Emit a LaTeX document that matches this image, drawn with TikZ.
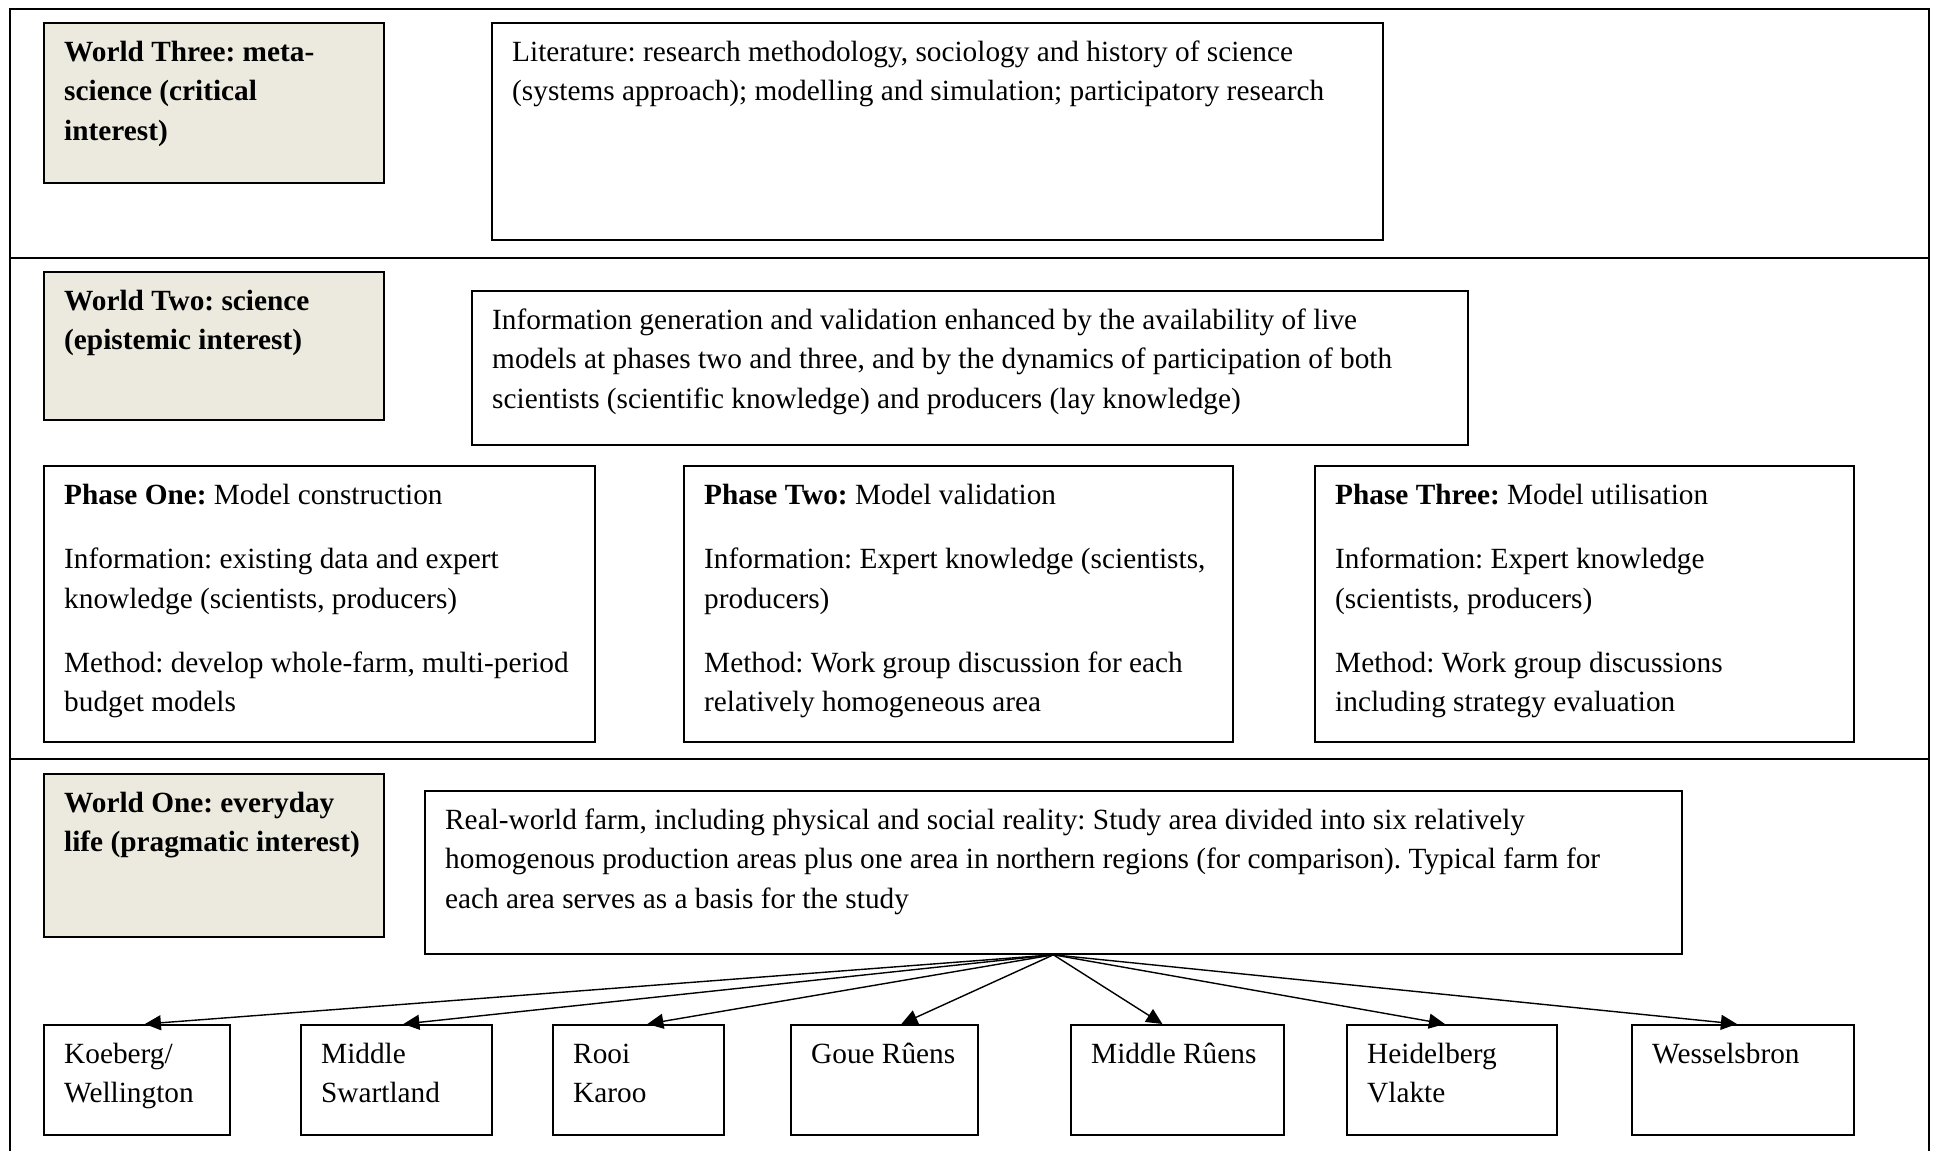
\documentclass[tikz,border=0pt]{standalone}
\usepackage{fontspec}
\setmainfont{Liberation Serif}
\usetikzlibrary{arrows.meta,calc}
\definecolor{beige}{RGB}{236,233,222}
\frenchspacing
\begin{document}
\begin{tikzpicture}[x=1pt,y=-1pt,
  box/.style={draw=black,line width=1.8pt,anchor=north west,inner sep=0pt},
  worldbox/.style={box,fill=beige},
  txt/.style={anchor=north west,inner sep=0pt,align=left,font=\fontsize{29.3}{39.4}\selectfont},
  arr/.style={line width=1.4pt,-{Triangle[length=16pt,width=15pt]}}]
\useasboundingbox (0,0) rectangle (1933,1151);
% frame and dividers
\draw[line width=2pt] (10,1160) -- (10,9) -- (1929,9) -- (1929,1160);
\draw[line width=2pt] (10,258) -- (1929,258);
\draw[line width=2pt] (10,759) -- (1929,759);
% boxes
\node[worldbox,minimum width=340pt,minimum height=160pt] (w3) at (43,22) {};
\node[box,minimum width=891pt,minimum height=217pt] (lit) at (491,22) {};
\node[worldbox,minimum width=340pt,minimum height=148pt] (w2) at (43,271) {};
\node[box,minimum width=996pt,minimum height=154pt] (info) at (471,290) {};
\node[box,minimum width=551pt,minimum height=276pt] (p1) at (43,465) {};
\node[box,minimum width=549pt,minimum height=276pt] (p2) at (683,465) {};
\node[box,minimum width=539pt,minimum height=276pt] (p3) at (1314,465) {};
\node[worldbox,minimum width=340pt,minimum height=163pt] (w1) at (43,773) {};
\node[box,minimum width=1257pt,minimum height=163pt] (rw) at (424,790) {};
\node[box,minimum width=186pt,minimum height=110pt] (b1) at (43,1024) {};
\node[box,minimum width=191pt,minimum height=110pt] (b2) at (300,1024) {};
\node[box,minimum width=171pt,minimum height=110pt] (b3) at (552,1024) {};
\node[box,minimum width=187pt,minimum height=110pt] (b4) at (790,1024) {};
\node[box,minimum width=213pt,minimum height=110pt] (b5) at (1070,1024) {};
\node[box,minimum width=210pt,minimum height=110pt] (b6) at (1346,1024) {};
\node[box,minimum width=222pt,minimum height=110pt] (b7) at (1631,1024) {};
% texts
\node[txt] (tw3) at ($(w3.north west)+(21,11.5)$) {\strut\textbf{World Three: meta-}\\\textbf{science (critical}\\\textbf{interest)}};
\node[txt] (tlit) at ($(lit.north west)+(21,11.5)$) {\strut Literature: research methodology, sociology and history of science\\(systems approach); modelling and simulation; participatory research};
\node[txt] (tw2) at ($(w2.north west)+(21,11.5)$) {\strut\textbf{World Two: science}\\\textbf{(epistemic interest)}};
\node[txt] (tinfo) at ($(info.north west)+(21,11.5)$) {\strut Information generation and validation enhanced by the availability of live\\models at phases two and three, and by the dynamics of participation of both\\scientists (scientific knowledge) and producers (lay knowledge)};
\node[txt] (tp1) at ($(p1.north west)+(21,11.5)$) {\strut\textbf{Phase One:} Model construction\\[25pt]Information: existing data and expert\\knowledge (scientists, producers)\\[25pt]Method: develop whole-farm, multi-period\\budget models};
\node[txt] (tp2) at ($(p2.north west)+(21,11.5)$) {\strut\textbf{Phase Two:} Model validation\\[25pt]Information: Expert knowledge (scientists,\\producers)\\[25pt]Method: Work group discussion for each\\relatively homogeneous area};
\node[txt] (tp3) at ($(p3.north west)+(21,11.5)$) {\strut\textbf{Phase Three:} Model utilisation\\[25pt]Information: Expert knowledge\\(scientists, producers)\\[25pt]Method: Work group discussions\\including strategy evaluation};
\node[txt] (tw1) at ($(w1.north west)+(21,11.5)$) {\strut\textbf{World One: everyday}\\\textbf{life (pragmatic interest)}};
\node[txt] (trw) at ($(rw.north west)+(21,11.5)$) {\strut Real-world farm, including physical and social reality: Study area divided into six relatively\\homogenous production areas plus one area in northern regions (for comparison). Typical farm for\\each area serves as a basis for the study};
\node[txt] (tb1) at ($(b1.north west)+(21,11.5)$) {\strut Koeberg/\\Wellington};
\node[txt] (tb2) at ($(b2.north west)+(21,11.5)$) {\strut Middle\\Swartland};
\node[txt] (tb3) at ($(b3.north west)+(21,11.5)$) {\strut Rooi\\Karoo};
\node[txt] (tb4) at ($(b4.north west)+(21,11.5)$) {\strut Goue Rûens};
\node[txt] (tb5) at ($(b5.north west)+(21,11.5)$) {\strut Middle Rûens};
\node[txt] (tb6) at ($(b6.north west)+(21,11.5)$) {\strut Heidelberg\\Vlakte};
\node[txt] (tb7) at ($(b7.north west)+(21,11.5)$) {\strut Wesselsbron};
% arrows
\draw[arr] (rw.south) -- ([xshift=8pt]b1.north);
\draw[arr] (rw.south) -- ([xshift=7pt]b2.north);
\draw[arr] (rw.south) -- ([xshift=9pt]b3.north);
\draw[arr] (rw.south) -- ([xshift=17pt]b4.north);
\draw[arr] (rw.south) -- ([xshift=-15pt]b5.north);
\draw[arr] (rw.south) -- ([xshift=-7pt]b6.north);
\draw[arr] (rw.south) -- ([xshift=-6pt]b7.north);
\end{tikzpicture}
\end{document}
